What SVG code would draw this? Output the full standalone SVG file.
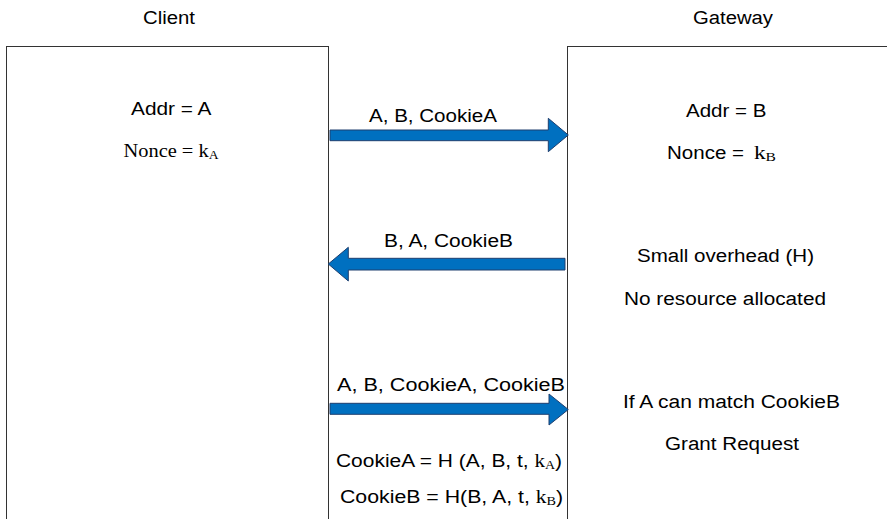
<svg xmlns="http://www.w3.org/2000/svg" width="887" height="519" viewBox="0 0 887 519">
<style>
.bg{fill:#ffffff}
.box{fill:#ffffff;stroke:#333333;stroke-width:1}
.t{font-family:"Liberation Sans",Arial,sans-serif;font-size:18px;fill:#000000}
.s{font-family:"Liberation Serif","Times New Roman",serif}
.sub{font-family:"Liberation Serif","Times New Roman",serif;font-size:12px}
.arr{fill:#0070C0;stroke:#1F3F6F;stroke-width:1;stroke-linejoin:miter}
</style>
<rect class="bg" x="0" y="0" width="887" height="519"/>
<g id="client">
  <text class="t" x="143" y="23.5" textLength="52" lengthAdjust="spacingAndGlyphs">Client</text>
  <rect class="box" x="6.5" y="46.5" width="322" height="500"/>
  <text class="t" x="131" y="115" textLength="80.5" lengthAdjust="spacingAndGlyphs">Addr = A</text>
  <text class="t s" x="123.5" y="157" textLength="95" lengthAdjust="spacingAndGlyphs">Nonce = k<tspan class="sub" dy="2">A</tspan></text>
</g>
<g id="gateway">
  <text class="t" x="693" y="24" textLength="80" lengthAdjust="spacingAndGlyphs">Gateway</text>
  <rect class="box" x="567.5" y="46.5" width="330" height="500"/>
  <text class="t" x="686" y="117" textLength="80.5" lengthAdjust="spacingAndGlyphs">Addr = B</text>
  <text class="t" x="667" y="159" textLength="77" lengthAdjust="spacingAndGlyphs">Nonce =</text>
  <text class="t s" x="754" y="159" font-size="18.5px" textLength="22" lengthAdjust="spacingAndGlyphs">k<tspan class="sub" dy="2" font-size="13px">B</tspan></text>
  <text class="t" x="637" y="261.7" textLength="177" lengthAdjust="spacingAndGlyphs">Small overhead (H)</text>
  <text class="t" x="624" y="305" textLength="202" lengthAdjust="spacingAndGlyphs">No resource allocated</text>
  <text class="t" x="623" y="408.3" textLength="217" lengthAdjust="spacingAndGlyphs">If A can match CookieB</text>
  <text class="t" x="665" y="450" textLength="134" lengthAdjust="spacingAndGlyphs">Grant Request</text>
</g>
<g id="connectors">
  <text class="t" x="369" y="121.7" textLength="128" lengthAdjust="spacingAndGlyphs">A, B, CookieA</text>
  <polygon class="arr" points="330,130 548.3,130 548.3,118.3 568.3,135 548.3,151.7 548.3,140.7 330,140.7"/>
  <text class="t" x="384" y="247.3" textLength="129" lengthAdjust="spacingAndGlyphs">B, A, CookieB</text>
  <polygon class="arr" points="565,258.3 348.3,258.3 348.3,247.3 328.3,264 348.3,281 348.3,270 565,270"/>
  <text class="t" x="337" y="390.7" textLength="228" lengthAdjust="spacingAndGlyphs">A, B, CookieA, CookieB</text>
  <polygon class="arr" points="330,403.3 549,403.3 549,394 568.3,409.5 549,425 549,414.3 330,414.3"/>
  <text class="t" x="336" y="466.7" textLength="226" lengthAdjust="spacingAndGlyphs">CookieA = H (A, B, t, <tspan class="s">k</tspan><tspan class="sub" dy="2">A</tspan><tspan dy="-2">)</tspan></text>
  <text class="t" x="340" y="503.3" textLength="223" lengthAdjust="spacingAndGlyphs">CookieB = H(B, A, t,  <tspan class="s">k</tspan><tspan class="sub" dy="2">B</tspan><tspan dy="-2">)</tspan></text>
</g>
</svg>
